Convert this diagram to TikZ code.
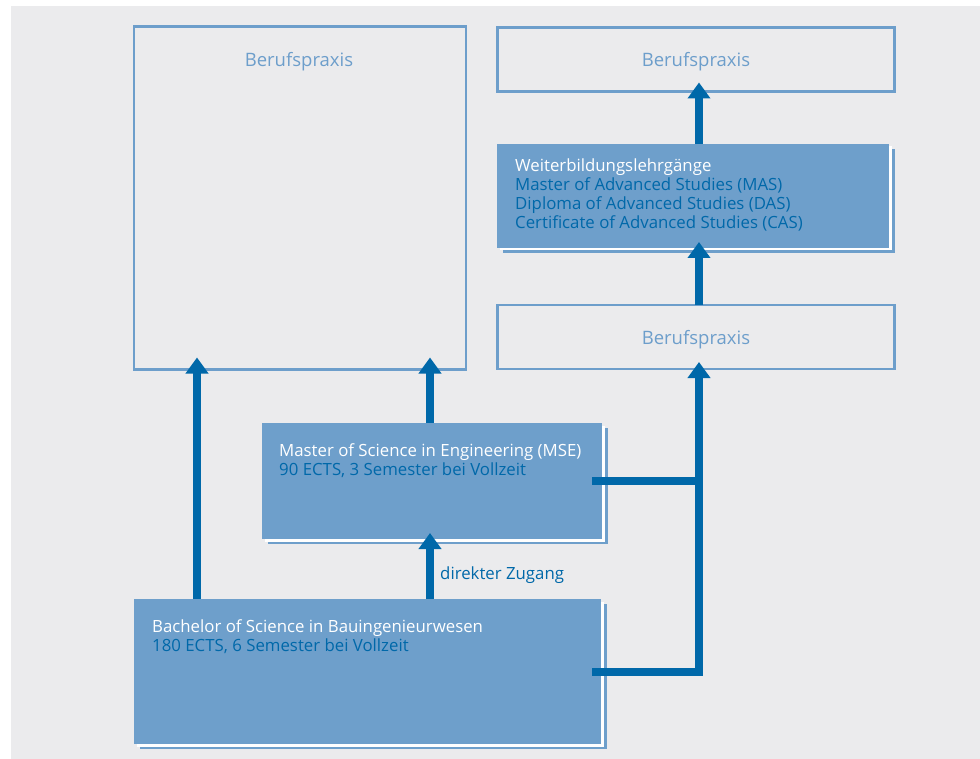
\documentclass[tikz,border=0pt]{standalone}
\usepackage{fontspec}
\setmainfont{Open Sans}
\usetikzlibrary{arrows.meta,calc,shadows}
\definecolor{bg}{HTML}{EBEBED}
\definecolor{boxblue}{HTML}{6E9FCB}
\definecolor{darkblue}{HTML}{0068A9}
\definecolor{lightblue}{HTML}{6D9ECB}
\begin{document}
\begin{tikzpicture}[x=1pt,y=-1pt,
  outlinebox/.style={draw=lightblue, line width=2.5pt, inner sep=0pt, outer sep=0pt},
  filledbox/.style={fill=boxblue, draw=none, inner sep=0pt, outer sep=0pt,
    general shadow={fill=boxblue, shadow xshift=6pt, shadow yshift=-5pt},
    general shadow={fill=white, shadow xshift=3pt, shadow yshift=-2.5pt}},
  bptext/.style={text=lightblue, font=\fontsize{18.5}{22}\selectfont},
  boxtext/.style={anchor=north west, inner sep=0pt, align=left, text=darkblue, font=\fontsize{16.8}{19}\selectfont},
  conn/.style={draw=darkblue, line width=8pt},
  arr/.style={conn, -{Triangle[width=22pt,length=16pt]}}
]
\useasboundingbox (0,0) rectangle (980,759);
\fill[white] (0,0) rectangle (980,759);
\fill[bg] (11,6) rectangle (980,759);

% boxes
\node[outlinebox, minimum width=332pt, minimum height=343pt] (bp1) at (300,198) {};
\node[outlinebox, minimum width=397pt, minimum height=64pt] (bp2) at (696,59.5) {};
\node[outlinebox, minimum width=397pt, minimum height=64pt] (bp3) at (696,337) {};
\node[filledbox, minimum width=392pt, minimum height=104pt] (wb) at (693,196) {};
\node[filledbox, minimum width=340pt, minimum height=116pt] (mse) at (432,481) {};
\node[filledbox, minimum width=467pt, minimum height=145pt] (bach) at (367.5,671.5) {};

% texts
\node[bptext] (t1) at (299,62) {Berufspraxis};
\node[bptext] (t2) at (696,62) {Berufspraxis};
\node[bptext] (t3) at (696,340) {Berufspraxis};
\node[boxtext] (t4) at (515,158.5) {\textcolor{white}{Weiterbildungslehrgänge}\\Master of Advanced Studies (MAS)\\Diploma of Advanced Studies (DAS)\\Certificate of Advanced Studies (CAS)};
\node[boxtext] (t5) at (279,443) {\textcolor{white}{Master of Science in Engineering (MSE)}\\90 ECTS, 3 Semester bei Vollzeit};
\node[boxtext] (t6) at (152,619.5) {\textcolor{white}{Bachelor of Science in Bauingenieurwesen}\\180 ECTS, 6 Semester bei Vollzeit};
\node[anchor=west, inner sep=0pt, text=darkblue, font=\fontsize{16.8}{19}\selectfont] (dz) at (440,575) {direkter Zugang};

% helper coordinates
\coordinate (xa) at (197,0);
\coordinate (xb) at (430,0);
\coordinate (xc) at (699,0);

% connectors
\draw[arr] (bach.north -| xa) -- ($(bp1.south -| xa)+(0,-12)$);
\draw[arr] (mse.north -| xb) -- ($(bp1.south -| xb)+(0,-12)$);
\draw[arr] (bach.north -| xb) -- ($(mse.south -| xb)+(0,-6)$);
\coordinate (j) at (703,481);
\draw[conn] ($(mse.east)+(-10,0)$) -- (j);
\draw[arr] ($(bach.east)+(-9,0)$) -| ($(bp3.south -| xc)+(0,-7)$);
\draw[arr] (bp3.north -| xc) -- ($(wb.south -| xc)+(0,-6)$);
\draw[arr] (wb.north -| xc) -- ($(bp2.south -| xc)+(0,-9)$);
\end{tikzpicture}
\end{document}
